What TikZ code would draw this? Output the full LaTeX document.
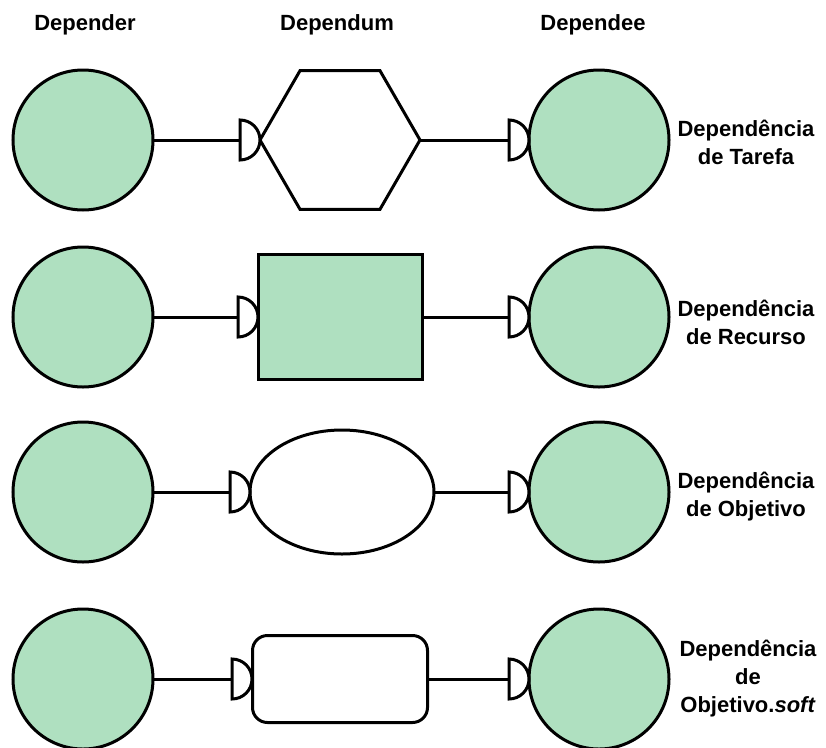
\documentclass[tikz,border=0pt]{standalone}
\usepackage{fontspec}
\setmainfont{Liberation Sans}
\usetikzlibrary{shapes.geometric}
\definecolor{actorgreen}{RGB}{175,224,192}
\tikzset{
  lw/.style={line width=3pt},
  actor/.style={circle, draw, lw, fill=actorgreen, minimum size=140pt, inner sep=0pt, outer sep=0pt},
  hexa/.style={regular polygon, regular polygon sides=6, shape border rotate=0, draw, lw, fill=white, minimum size=160pt, inner sep=0pt, outer sep=0pt},
  resbox/.style={rectangle, draw, lw, fill=actorgreen, minimum width=164pt, minimum height=125pt, inner sep=0pt, outer sep=0pt},
  goalell/.style={ellipse, draw, lw, fill=white, minimum width=184pt, minimum height=124pt, inner sep=0pt, outer sep=0pt},
  softbox/.style={rectangle, rounded corners=15pt, draw, lw, fill=white, minimum width=175pt, minimum height=87pt, inner sep=0pt, outer sep=0pt},
  conn/.style={lw},
  dshape/.style={lw, fill=white, line join=miter},
  hdr/.style={font=\fontsize{22}{26}\selectfont\bfseries, anchor=base},
  lbl/.style={font=\fontsize{22}{28}\selectfont\bfseries, align=center}
}
\newcommand{\depD}[1]{\draw[dshape] ([yshift=20pt]#1) -- ([yshift=-20pt]#1) arc[start angle=-90,end angle=90,radius=20pt] -- cycle;}
\begin{document}
\begin{tikzpicture}[x=1pt,y=-1pt]
\useasboundingbox (0,0) rectangle (826,747);
% headers
\node[hdr] (h1) at (85,30) {Depender};
\node[hdr] (h2) at (337,30) {Dependum};
\node[hdr] (h3) at (593,30) {Dependee};

% row 1: task
\coordinate (d1a) at (240,140);
\coordinate (d1b) at (509,140);
\node[actor] (l1) at (83,140) {};
\node[actor] (r1) at (599,140) {};
\node[hexa] (t1) at (340,140) {};
\draw[conn] (l1.east) -- (d1a);
\draw[conn] (t1.east) -- (d1b);
\depD{d1a}
\depD{d1b}
\node[lbl] (c1) at (746,142) {Dependência\\de Tarefa};

% row 2: resource
\coordinate (d2a) at (238,317);
\coordinate (d2b) at (509,317);
\node[actor] (l2) at (83,317) {};
\node[actor] (r2) at (599,317) {};
\node[resbox] (t2) at (340,317) {};
\draw[conn] (l2.east) -- (d2a);
\draw[conn] (t2.east) -- (d2b);
\depD{d2a}
\depD{d2b}
\node[lbl] (c2) at (746,322) {Dependência\\de Recurso};

% row 3: goal
\coordinate (d3a) at (230,492);
\coordinate (d3b) at (509,492);
\node[actor] (l3) at (83,492) {};
\node[actor] (r3) at (599,492) {};
\node[goalell] (t3) at (342,492) {};
\draw[conn] (l3.east) -- (d3a);
\draw[conn] (t3.east) -- (d3b);
\depD{d3a}
\depD{d3b}
\node[lbl] (c3) at (746,497) {Dependência\\de Objetivo};

% row 4: softgoal
\coordinate (d4a) at (232,679);
\coordinate (d4b) at (509,679);
\node[actor] (l4) at (83,679) {};
\node[actor] (r4) at (599,679) {};
\node[softbox] (t4) at (340,679) {};
\draw[conn] (l4.east) -- (d4a);
\draw[conn] (t4.east) -- (d4b);
\depD{d4a}
\depD{d4b}
\node[lbl] (c4) at (748,679) {Dependência\\de\\Objetivo.\textit{soft}};
\end{tikzpicture}
\end{document}
